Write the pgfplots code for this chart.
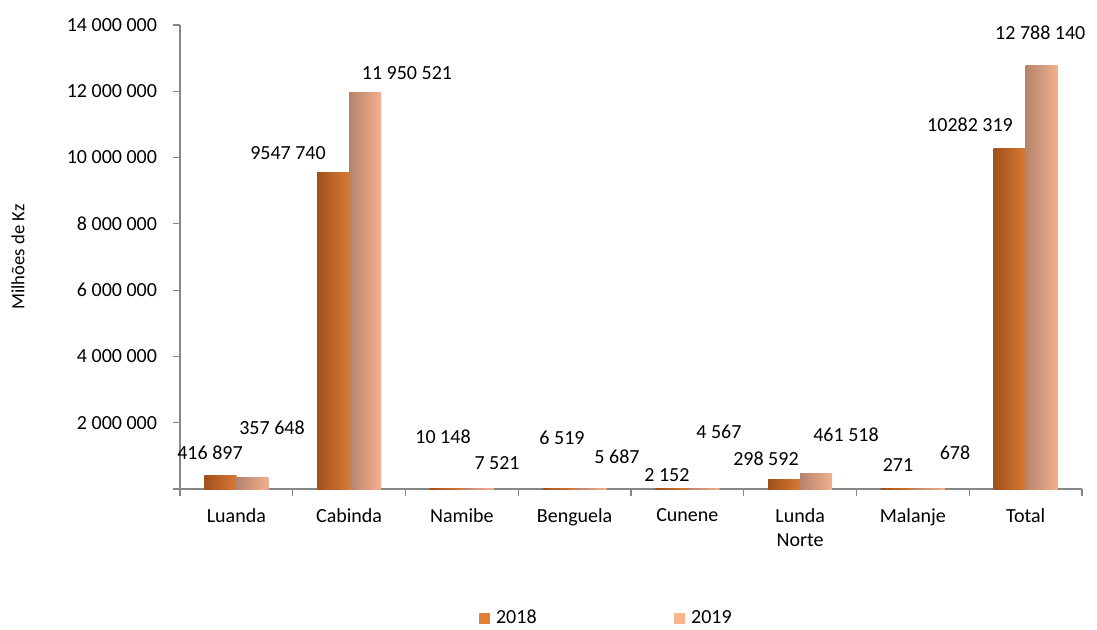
\documentclass[border=0pt]{standalone}
\usepackage{fontspec}
\setmainfont{Carlito}
\usepackage{pgfplots}
\pgfplotsset{compat=1.18}
\definecolor{c18}{HTML}{E3803A}
\definecolor{c18d}{HTML}{A0501C}
\definecolor{c18l}{HTML}{F59C55}
\definecolor{c18r}{HTML}{D87A34}
\definecolor{c19}{HTML}{FBB68F}
\definecolor{c19d}{HTML}{B5836D}
\definecolor{c19l}{HTML}{FFCBA8}
\definecolor{c19r}{HTML}{F2B08E}
\definecolor{axgray}{HTML}{868686}
\pgfplotsset{
  b18/.style={draw=none, left color=c18d, middle color=c18l, right color=c18r, bar shift=-12pt, forget plot},
  b19/.style={draw=none, left color=c19d, middle color=c19l, right color=c19r, bar shift=12pt, forget plot},
}
\begin{document}
\begin{tikzpicture}[font=\fontsize{15}{18}\selectfont]
\useasboundingbox (-135pt,-105pt) rectangle (687.75pt,366.75pt);
\begin{axis}[
  scale only axis, width=676.5pt, height=348pt,
  xmin=-0.5, xmax=7.5, ymin=0, ymax=14000000,
  ybar=0pt, bar width=24pt, clip=false,
  axis lines*=left,
  axis line style={axgray, line width=0.9pt},
  tick align=outside, major tick length=5.25pt,
  tick style={axgray, line width=0.8pt},
  xtick={-0.5,0.5,1.5,2.5,3.5,4.5,5.5,6.5,7.5},
  x tick label as interval,
  xticklabels={Luanda,Cabinda,Namibe,Benguela,Cunene,{Lunda\\Norte},Malanje,Total},
  xticklabel style={align=center, yshift=-6pt},
  ytick={0,2000000,4000000,6000000,8000000,10000000,12000000,14000000},
  yticklabels={,2 000 000,4 000 000,6 000 000,8 000 000,10 000 000,12 000 000,14 000 000},
  scaled y ticks=false,
  yticklabel style={xshift=-8.5pt},
  legend style={at={(rel axis cs:0.473,-0.278)}, anchor=center, draw=none, fill=none,
    inner sep=1pt, legend columns=2,
    /tikz/every odd column/.append style={column sep=3pt},
    /tikz/every even column/.append style={column sep=101pt},
    font=\fontsize{15}{18}\selectfont},
]
\addlegendimage{legend image code/.code={\fill[c18] (0pt,-3.75pt) rectangle (7.5pt,3.75pt);}}
\addlegendentry{2018}
\addlegendimage{legend image code/.code={\fill[c19] (0pt,-3.75pt) rectangle (7.5pt,3.75pt);}}
\addlegendentry{2019}
% 2018
\addplot[b18] coordinates {(0,416897)};
\addplot[b18] coordinates {(1,9547740)};
\addplot[b18] coordinates {(2,10148)};
\addplot[b18] coordinates {(3,6519)};
\addplot[b18] coordinates {(4,2152)};
\addplot[b18] coordinates {(5,298592)};
\addplot[b18] coordinates {(6,271)};
\addplot[b18] coordinates {(7,10282319)};
% 2019
\addplot[b19] coordinates {(0,357648)};
\addplot[b19] coordinates {(1,11950521)};
\addplot[b19] coordinates {(2,7521)};
\addplot[b19] coordinates {(3,5687)};
\addplot[b19] coordinates {(4,4567)};
\addplot[b19] coordinates {(5,461518)};
\addplot[b19] coordinates {(6,678)};
\addplot[b19] coordinates {(7,12788140)};
\node at (axis cs:-0.234,1086000) {416 897};
\node at (axis cs:0.316,1840000) {357 648};
\node at (axis cs:0.458,10138000) {9547 740};
\node at (axis cs:1.513,12550000) {11 950 521};
\node at (axis cs:1.833,1569000) {10 148};
\node at (axis cs:2.312,784000) {7 521};
\node at (axis cs:2.888,1539000) {6 519};
\node at (axis cs:3.376,966000) {5 687};
\node at (axis cs:3.819,422000) {2 152};
\node at (axis cs:4.280,1720000) {4 567};
\node at (axis cs:4.697,905000) {298 592};
\node at (axis cs:5.407,1629000) {461 518};
\node at (axis cs:5.868,724000) {271};
\node at (axis cs:6.374,1086000) {678};
\node at (axis cs:6.507,10983000) {10282 319};
\node at (axis cs:7.13,13759000) {12 788 140};
\node[rotate=90, font=\fontsize{14}{17}\selectfont] at (rel axis cs:-0.1796,0.5) {Milhões de Kz};
\end{axis}
\end{tikzpicture}
\end{document}
